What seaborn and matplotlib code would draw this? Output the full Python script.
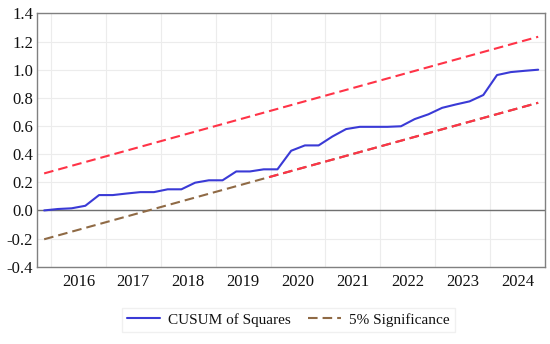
import numpy as np
import pandas as pd
import matplotlib
matplotlib.use("Agg")
import matplotlib.pyplot as plt
from matplotlib.patches import Rectangle
import seaborn as sns

# ---- data ----
first_quarter = "2015Q4"
last_quarter = "2024Q4"
cusum_sq = [0.000, 0.010, 0.015, 0.033, 0.109, 0.109, 0.120, 0.130, 0.130,
            0.150, 0.150, 0.197, 0.214, 0.214, 0.277, 0.277, 0.292, 0.292,
            0.424, 0.462, 0.462, 0.525, 0.578, 0.594, 0.594, 0.594, 0.598,
            0.649, 0.683, 0.729, 0.753, 0.775, 0.820, 0.962, 0.983, 0.992,
            1.000]
upper_bound = [0.263, 1.234]   # at first and last quarter
lower_bound = [-0.205, 0.765]  # at first and last quarter
year_labels = [2016, 2017, 2018, 2019, 2020, 2021, 2022, 2023, 2024]
y_ticks = [-0.4, -0.2, 0.0, 0.2, 0.4, 0.6, 0.8, 1.0, 1.2, 1.4]

periods = pd.period_range(first_quarter, last_quarter, freq="Q")
xpos = periods.year + (periods.quarter - 1) / 4 + 0.125
df = pd.DataFrame({"x": xpos, "CUSUM of Squares": cusum_sq})
bx = [xpos[0], xpos[-1]]
dfu = pd.DataFrame({"x": bx, "y": upper_bound})
dfl = pd.DataFrame({"x": bx, "y": lower_bound})

sns.set_theme(style="white")
plt.rcParams["font.family"] = ["Liberation Serif", "DejaVu Serif"]
plt.rcParams["axes.unicode_minus"] = False

fig = plt.figure(figsize=(5.5, 3.44), dpi=100)
ax = fig.add_axes([0.0678, 0.2247, 0.9232, 0.7363])

blue = "#3a3ad6"
red = "#ff3347"
brown = "#8f6a45"
dash = (4.6, 2.4)

sns.lineplot(data=df, x="x", y="CUSUM of Squares", ax=ax, color=blue,
             linewidth=1.5, label="CUSUM of Squares", zorder=4)
sns.lineplot(data=dfl, x="x", y="y", ax=ax, color=brown, linewidth=1.5,
             label="5% Significance", zorder=3)
ax.lines[-1].set_dashes(dash)
sns.lineplot(data=dfu, x="x", y="y", ax=ax, color=red, linewidth=1.5,
             legend=False, zorder=3)
ax.lines[-1].set_dashes(dash)
sns.lineplot(data=dfl, x="x", y="y", ax=ax, color=red, linewidth=1.5,
             legend=False, zorder=3)
red_low = ax.lines[-1]
red_low.set_dashes(dash)
rect = Rectangle((2019.95, -1), 20, 5, transform=ax.transData)
red_low.set_clip_path(rect)

ax.axhline(0, color="#707070", linewidth=1.0, zorder=2)

ax.set_xlim(2015.75, 2025.0)
ax.set_ylim(-0.4, 1.4)
ax.set_yticks(y_ticks)
ax.set_yticklabels([f"{v:.1f}" for v in y_ticks])
ax.set_xticks(year_labels, minor=False)
ax.set_xticks([y + 0.5 for y in year_labels], minor=True)
ax.set_xticklabels([])
ax.set_xticklabels([str(y) for y in year_labels], minor=True)
ax.tick_params(axis="x", which="both", length=0, labelsize=12, pad=5, colors="#111111")
ax.tick_params(axis="y", length=0, labelsize=12, pad=3, colors="#111111")
ax.grid(True, which="major", color="#ececec", linewidth=0.8)
ax.set_axisbelow(True)
ax.set_xlabel("")
ax.set_ylabel("")
for s in ax.spines.values():
    s.set_color("#808080")
    s.set_linewidth(1.0)

handles, labels = ax.get_legend_handles_labels()
if ax.get_legend():
    ax.get_legend().remove()
leg = fig.legend(handles, labels, loc="center", bbox_to_anchor=(0.524, 0.07),
                 ncol=2, frameon=True, fontsize=11, handlelength=2.2,
                 columnspacing=1.1, borderpad=0.35, fancybox=False,
                 edgecolor="#f0f0f0", framealpha=1.0, handletextpad=0.5)
for t in leg.get_texts():
    t.set_color("#111111")

fig.savefig("out.png", dpi=100)
